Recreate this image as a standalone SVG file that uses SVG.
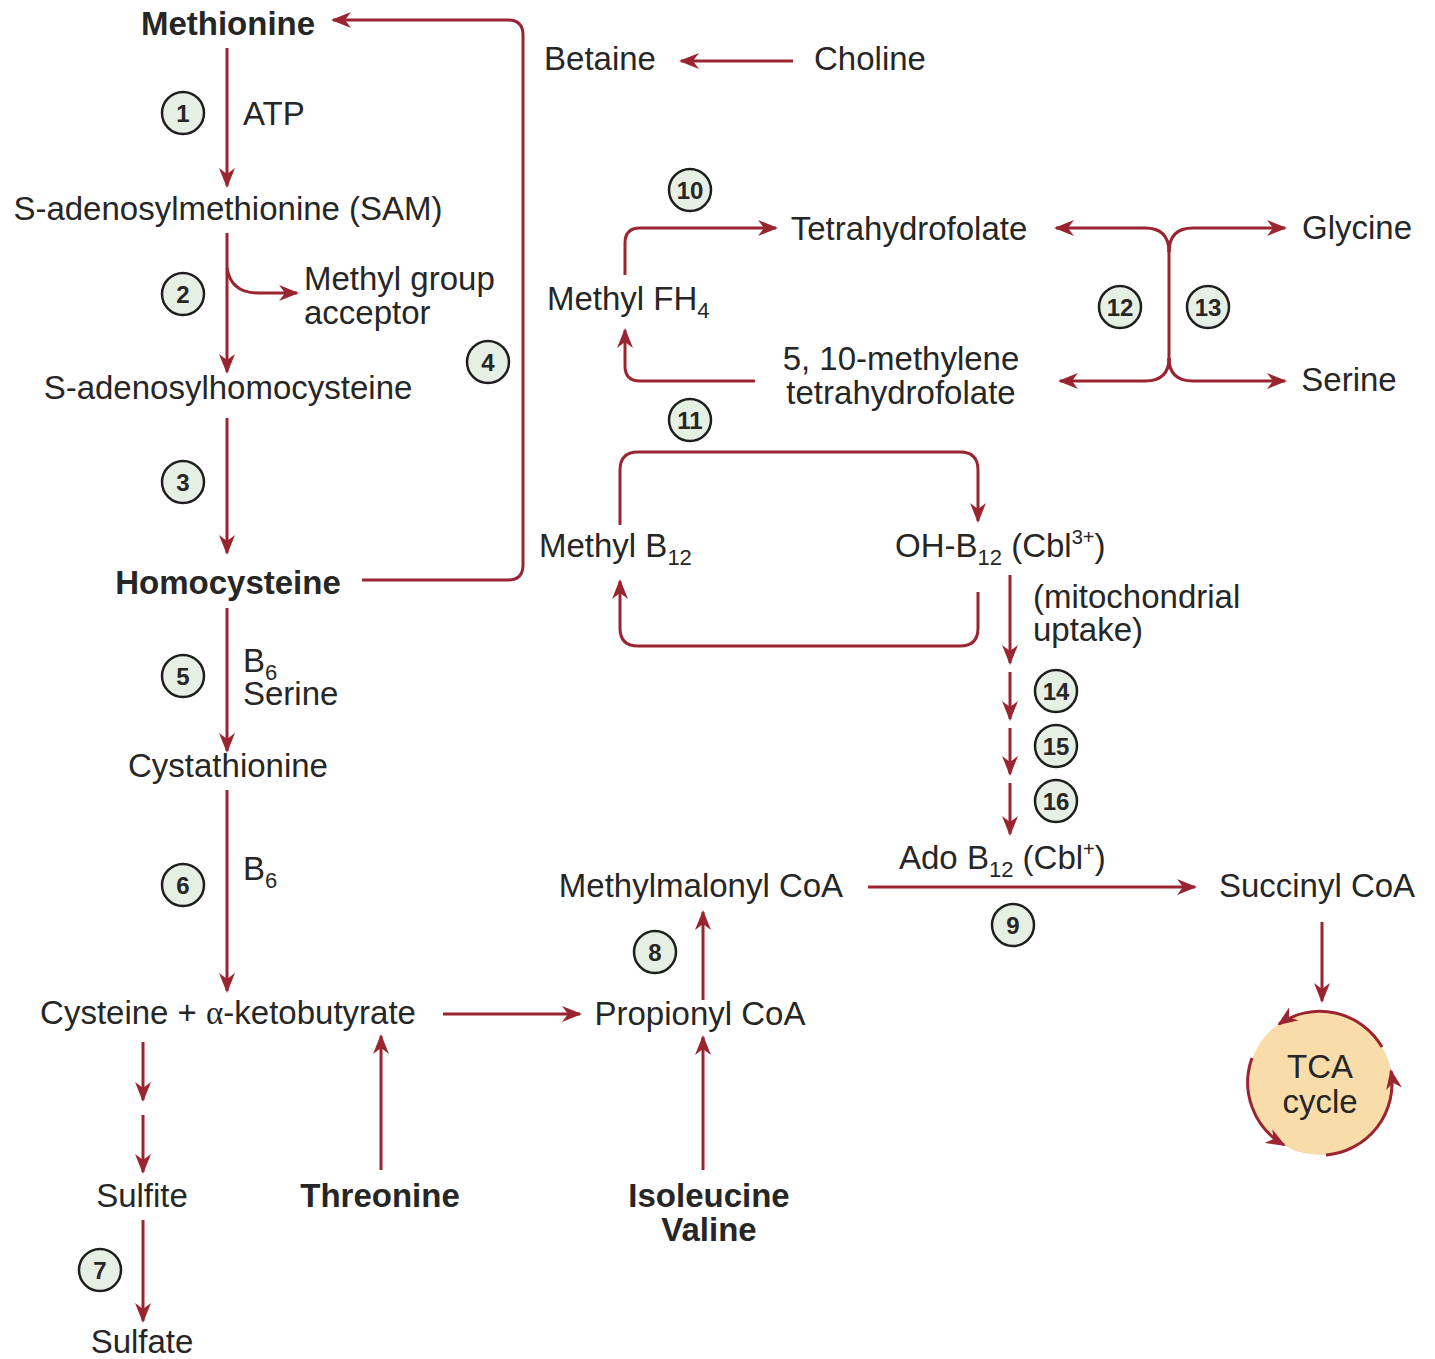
<svg xmlns="http://www.w3.org/2000/svg" width="1435" height="1359" viewBox="0 0 1435 1359">
<defs>
<marker id="ah" markerWidth="10" markerHeight="10" refX="9" refY="5" orient="auto" markerUnits="userSpaceOnUse" viewBox="0 0 10 10">
<path d="M0,0 L10,5 L0,10 L3,5 z" fill="#9a2530"/>
</marker>
<marker id="ahL" markerWidth="20" markerHeight="16" refX="18" refY="8" orient="auto" markerUnits="userSpaceOnUse" viewBox="0 0 20 16">
<path d="M0,0 L20,8 L0,16 L6,8 z" fill="#9a2530"/>
</marker>
</defs>
<style>
text{font-family:"Liberation Sans",Arial,sans-serif;font-size:33px;fill:#262626}
.b{font-weight:bold}
.m{text-anchor:middle}
.c circle{fill:#e6efe4;stroke:#1e1e1e;stroke-width:2.5}
.c text{font-size:24px;font-weight:bold;text-anchor:middle}
.conn path{fill:none;stroke:#9a2530;stroke-width:3;marker-end:url(#ahL)}
.conn path.n{marker-end:none}
</style>
<rect width="1435" height="1359" fill="#ffffff"/>

<g id="connectors" class="conn">
<path d="M227,48 L227,186"/>
<path d="M227,233 L227,372"/>
<path d="M227,268 Q231,293 258,293 L297,293"/>
<path d="M227,418 L227,553"/>
<path d="M362,580 L508,580 Q523,580 523,565 L523,35 Q523,20 508,20 L333,20"/>
<path d="M227,608 L227,751"/>
<path d="M227,790 L227,991"/>
<path d="M443,1014 L580,1014"/>
<path d="M381,1170 L381,1036"/>
<path d="M143,1042 L143,1100"/>
<path d="M143,1115 L143,1172"/>
<path d="M143,1220 L143,1321"/>
<path d="M703,1170 L703,1037"/>
<path d="M703,1000 L703,912"/>
<path d="M868,887 L1195,887"/>
<path d="M1322,922 L1322,1001"/>
<path d="M793,61 L681,61"/>
<path d="M625,275 L625,243 Q625,228 640,228 L776,228"/>
<path d="M755,381 L640,381 Q625,381 625,366 L625,330"/>
<path class="n" d="M1169,245 L1169,365"/>
<path d="M1169,252 Q1169,228 1145,228 L1056,228"/>
<path d="M1169,252 Q1169,228 1193,228 L1285,228"/>
<path d="M1169,358 Q1169,381 1145,381 L1060,381"/>
<path d="M1169,358 Q1169,381 1193,381 L1285,381"/>
<path d="M620,525 L620,470 Q620,452 638,452 L960,452 Q978,452 978,470 L978,521"/>
<path d="M978,592 L978,628 Q978,646 960,646 L638,646 Q620,646 620,628 L620,581"/>
<path d="M1010,575 L1010,663"/>
<path d="M1010,672 L1010,719"/>
<path d="M1010,728 L1010,774"/>
<path d="M1010,783 L1010,834"/>
</g>

<g id="tca">
<circle cx="1320" cy="1083" r="72" fill="#f8ddab"/>
<g class="conn">
<path d="M1382,1047 A72,72 0 0,0 1279,1024"/>
<path d="M1252,1058 A72,72 0 0,0 1284,1145"/>
<path d="M1326,1155 A72,72 0 0,0 1391,1071"/>
</g>
<text class="m" x="1320" y="1078">TCA</text>
<text class="m" x="1320" y="1113">cycle</text>
</g>

<g id="n-methionine"><text class="b m" x="228" y="35">Methionine</text></g>
<g id="n-sam"><text class="m" x="228" y="220">S-adenosylmethionine (SAM)</text></g>
<g id="n-acceptor"><text x="304" y="290">Methyl group</text><text x="304" y="324">acceptor</text></g>
<g id="n-sah"><text class="m" x="228" y="399">S-adenosylhomocysteine</text></g>
<g id="n-homocysteine"><text class="b m" x="228" y="594">Homocysteine</text></g>
<g id="n-cystathionine"><text class="m" x="228" y="777">Cystathionine</text></g>
<g id="n-cysteine"><text class="m" x="228" y="1024">Cysteine + <tspan font-family="Liberation Serif, serif">α</tspan>-ketobutyrate</text></g>
<g id="n-sulfite"><text class="m" x="142" y="1207">Sulfite</text></g>
<g id="n-sulfate"><text class="m" x="142" y="1353">Sulfate</text></g>
<g id="n-threonine"><text class="b m" x="380" y="1207">Threonine</text></g>
<g id="n-ileval"><text class="b m" x="709" y="1207">Isoleucine</text><text class="b m" x="709" y="1241">Valine</text></g>
<g id="n-propionyl"><text class="m" x="700" y="1025">Propionyl CoA</text></g>
<g id="n-methylmalonyl"><text class="m" x="701" y="897">Methylmalonyl CoA</text></g>
<g id="n-succinyl"><text class="m" x="1317" y="897">Succinyl CoA</text></g>
<g id="n-adob12"><text x="899" y="869">Ado B<tspan font-size="22" dy="8">12</tspan><tspan dy="-8"> (Cbl</tspan><tspan font-size="20" dy="-13">+</tspan><tspan dy="13">)</tspan></text></g>
<g id="n-betaine"><text class="m" x="600" y="70">Betaine</text></g>
<g id="n-choline"><text class="m" x="870" y="70">Choline</text></g>
<g id="n-thf"><text class="m" x="909" y="240">Tetrahydrofolate</text></g>
<g id="n-methylfh4"><text x="547" y="310">Methyl FH<tspan font-size="22" dy="8">4</tspan></text></g>
<g id="n-methylene"><text class="m" x="901" y="370">5, 10-methylene</text><text class="m" x="901" y="404">tetrahydrofolate</text></g>
<g id="n-glycine"><text class="m" x="1357" y="239">Glycine</text></g>
<g id="n-serine2"><text class="m" x="1349" y="391">Serine</text></g>
<g id="n-methylb12"><text x="539" y="557">Methyl B<tspan font-size="22" dy="8">12</tspan></text></g>
<g id="n-ohb12"><text x="895" y="557">OH-B<tspan font-size="22" dy="8">12</tspan><tspan dy="-8"> (Cbl</tspan><tspan font-size="20" dy="-13">3+</tspan><tspan dy="13">)</tspan></text></g>
<g id="n-uptake"><text x="1033" y="608">(mitochondrial</text><text x="1033" y="641">uptake)</text></g>

<g id="labels">
<text x="243" y="125">ATP</text>
<text x="243" y="672">B<tspan font-size="22" dy="8">6</tspan></text>
<text x="243" y="705">Serine</text>
<text x="243" y="880">B<tspan font-size="22" dy="8">6</tspan></text>
</g>

<g id="steps" class="c">
<g id="s1"><circle cx="183" cy="113" r="21"/><text x="183" y="122">1</text></g>
<g id="s2"><circle cx="183" cy="294" r="21"/><text x="183" y="303">2</text></g>
<g id="s3"><circle cx="183" cy="482" r="21"/><text x="183" y="491">3</text></g>
<g id="s4"><circle cx="488" cy="362" r="21"/><text x="488" y="371">4</text></g>
<g id="s5"><circle cx="183" cy="676" r="21"/><text x="183" y="685">5</text></g>
<g id="s6"><circle cx="183" cy="885" r="21"/><text x="183" y="894">6</text></g>
<g id="s7"><circle cx="100" cy="1270" r="21"/><text x="100" y="1279">7</text></g>
<g id="s8"><circle cx="655" cy="952" r="21"/><text x="655" y="961">8</text></g>
<g id="s9"><circle cx="1013" cy="925" r="21"/><text x="1013" y="934">9</text></g>
<g id="s10"><circle cx="690" cy="190" r="21"/><text x="690" y="199">10</text></g>
<g id="s11"><circle cx="690" cy="420" r="21"/><text x="690" y="429">11</text></g>
<g id="s12"><circle cx="1120" cy="307" r="21"/><text x="1120" y="316">12</text></g>
<g id="s13"><circle cx="1208" cy="307" r="21"/><text x="1208" y="316">13</text></g>
<g id="s14"><circle cx="1056" cy="691" r="21"/><text x="1056" y="700">14</text></g>
<g id="s15"><circle cx="1056" cy="746" r="21"/><text x="1056" y="755">15</text></g>
<g id="s16"><circle cx="1056" cy="801" r="21"/><text x="1056" y="810">16</text></g>
</g>
</svg>
